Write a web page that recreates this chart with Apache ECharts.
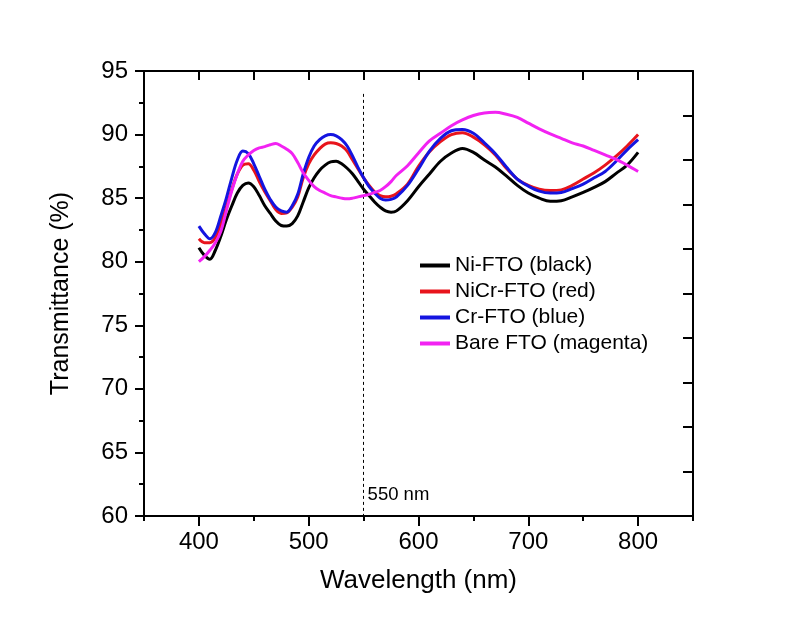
<!DOCTYPE html>
<html>
<head>
<meta charset="utf-8">
<script src="https://cdn.jsdelivr.net/npm/echarts@6/dist/echarts.min.js"></script>
<style>html,body{margin:0;padding:0;background:#fff;}#c{width:812px;height:624px;}</style>
</head>
<body>
<div id="c"></div>
<script>
const wavelength = [400,405,410,415,420,425,430,435,440,445,450,455,460,465,470,475,480,485,490,495,500,505,510,515,520,525,530,535,540,545,550,555,560,565,570,575,580,
  590,600,610,620,630,640,650,660,670,680,690,700,710,720,730,740,750,760,770,780,790,800];
const niFTO = [81.1,80.5,80.2,80.9,82.0,83.3,84.4,85.4,86.0,86.2,85.9,85.2,84.4,83.8,83.2,82.85,82.8,83.0,83.6,84.7,85.8,86.6,87.2,87.6,87.85,87.9,87.7,87.35,86.9,86.3,85.7,85.2,84.7,84.3,84.0,83.9,84.0,
  84.8,85.9,86.9,87.9,88.55,88.9,88.6,88.0,87.45,86.75,86.0,85.4,85.0,84.75,84.8,85.1,85.45,85.85,86.3,86.95,87.6,88.6];
const niCrFTO = [81.8,81.5,81.5,81.9,83.0,84.3,85.7,86.9,87.6,87.7,87.2,86.3,85.5,84.8,84.1,83.8,83.85,84.3,85.1,86.6,87.7,88.4,88.9,89.25,89.35,89.3,89.1,88.7,88.0,87.3,86.6,86.0,85.5,85.2,85.1,85.15,85.35,
  86.1,87.5,88.65,89.45,90.0,90.15,89.8,89.2,88.4,87.35,86.5,86.0,85.7,85.6,85.65,86.0,86.5,87.0,87.6,88.3,89.1,90.0];
const crFTO = [82.8,82.2,81.8,82.3,83.6,85.0,86.6,88.0,88.7,88.5,87.7,86.7,85.7,84.9,84.3,84.0,83.9,84.4,85.3,86.9,88.2,89.1,89.6,89.9,90.0,89.9,89.6,89.1,88.3,87.4,86.6,85.9,85.4,85.0,84.85,84.9,85.1,
  86.0,87.3,88.7,89.7,90.3,90.4,90.1,89.35,88.5,87.45,86.5,85.95,85.55,85.4,85.45,85.75,86.1,86.6,87.1,87.9,88.8,89.6];
const bareFTO = [80.0,80.4,80.9,81.5,82.4,84.0,85.6,86.9,87.9,88.4,88.75,88.95,89.05,89.2,89.3,89.1,88.85,88.5,87.8,87.0,86.4,85.9,85.6,85.4,85.2,85.1,85.0,84.95,85.0,85.1,85.2,85.3,85.45,85.6,85.9,86.3,86.8,
  87.55,88.55,89.5,90.1,90.7,91.15,91.5,91.7,91.75,91.6,91.35,90.9,90.45,90.05,89.7,89.35,89.1,88.75,88.4,88.05,87.6,87.1];
const seriesNames = ['Ni-FTO (black)','NiCr-FTO (red)','Cr-FTO (blue)','Bare FTO (magenta)'];
const seriesColors = ['#000000','#e8141c','#1414e0','#f222f2'];
const xMajorTicks = [400,500,600,700,800];
const refWavelength = 550;
const refLabel = '550 nm';

const FONT = "'Liberation Sans', Arial, sans-serif";
const chart = echarts.init(document.getElementById('c'), null, {renderer:'canvas'});
const allData = [niFTO, niCrFTO, crFTO, bareFTO];
const series = allData.map((arr, k) => ({
  name: seriesNames[k],
  type: 'line',
  xAxisIndex: 0, yAxisIndex: 0,
  data: wavelength.map((w, i) => [w, arr[i]]),
  showSymbol: false,
  smooth: 0.35,
  lineStyle: {color: seriesColors[k], width: 3},
  itemStyle: {color: seriesColors[k]},
  z: 3 + k
}));
series[0].markLine = {
  silent: true, symbol: 'none', animation: false,
  lineStyle: {type: [3, 3], color: '#000', width: 1},
  label: {show: false},
  data: [[{coord: [refWavelength, 93.2]}, {coord: [refWavelength, 60]}]]
};
series[0].markPoint = {
  silent: true, animation: false, symbol: 'circle', symbolSize: 0,
  label: {show: true, position: 'right', distance: 4, formatter: refLabel, color: '#000', fontSize: 18.5, fontFamily: FONT},
  data: [{coord: [refWavelength, 61.65]}]
};
const axisLineStyle = {color: '#000', width: 2};
chart.setOption({
  animation: false,
  backgroundColor: '#fff',
  grid: {left: 144, right: 119, top: 71, bottom: 108, containLabel: false},
  legend: {
    show: true, orient: 'vertical', left: 415, top: 250, padding: 5,
    itemWidth: 30, itemHeight: 4, itemGap: 5, icon: 'rect',
    textStyle: {fontSize: 21, fontFamily: FONT, color: '#000'},
    data: seriesNames
  },
  xAxis: [
    {type: 'value', position: 'bottom', min: 350, max: 850,
     name: 'Wavelength (nm)', nameLocation: 'middle', nameGap: 52,
     nameTextStyle: {fontSize: 26, fontFamily: FONT, color: '#000'},
     axisLine: {show: true, onZero: false, lineStyle: axisLineStyle},
     axisTick: {show: true, inside: false, length: 10, lineStyle: {width: 2, color: '#000'}, customValues: xMajorTicks},
     axisLabel: {show: true, margin: 14, fontSize: 24, fontFamily: FONT, color: '#000', customValues: xMajorTicks},
     splitLine: {show: false}},
    {type: 'value', position: 'bottom', min: 350, max: 850, interval: 50,
     axisLine: {show: false, onZero: false},
     axisTick: {show: true, inside: false, length: 5, lineStyle: {width: 2, color: '#000'}},
     axisLabel: {show: false},
     splitLine: {show: false}},
    {type: 'value', position: 'top', min: 350, max: 850, interval: 50,
     axisLine: {show: true, onZero: false, lineStyle: axisLineStyle},
     axisTick: {show: true, inside: true, length: 9, lineStyle: {width: 2, color: '#000'}},
     axisLabel: {show: false},
     splitLine: {show: false}}
  ],
  yAxis: [
    {type: 'value', position: 'left', min: 60, max: 95, interval: 5,
     name: 'Transmittance (%)', nameLocation: 'middle', nameGap: 70, nameRotate: 90,
     nameTextStyle: {fontSize: 25, fontFamily: FONT, color: '#000'},
     axisLine: {show: true, onZero: false, lineStyle: axisLineStyle},
     axisTick: {show: true, inside: false, length: 9, lineStyle: {width: 2, color: '#000'}},
     minorTick: {show: true, splitNumber: 2, length: 5, lineStyle: {width: 2, color: '#000'}},
     axisLabel: {show: true, margin: 16, fontSize: 24, fontFamily: FONT, color: '#000'},
     splitLine: {show: false}, minorSplitLine: {show: false}},
    {type: 'value', position: 'right', min: 0, max: 10, interval: 1,
     axisLine: {show: true, onZero: false, lineStyle: axisLineStyle},
     axisTick: {show: true, inside: true, length: 10, lineStyle: {width: 2, color: '#000'}},
     axisLabel: {show: false},
     splitLine: {show: false}}
  ],
  series: series
});
</script>
</body>
</html>
